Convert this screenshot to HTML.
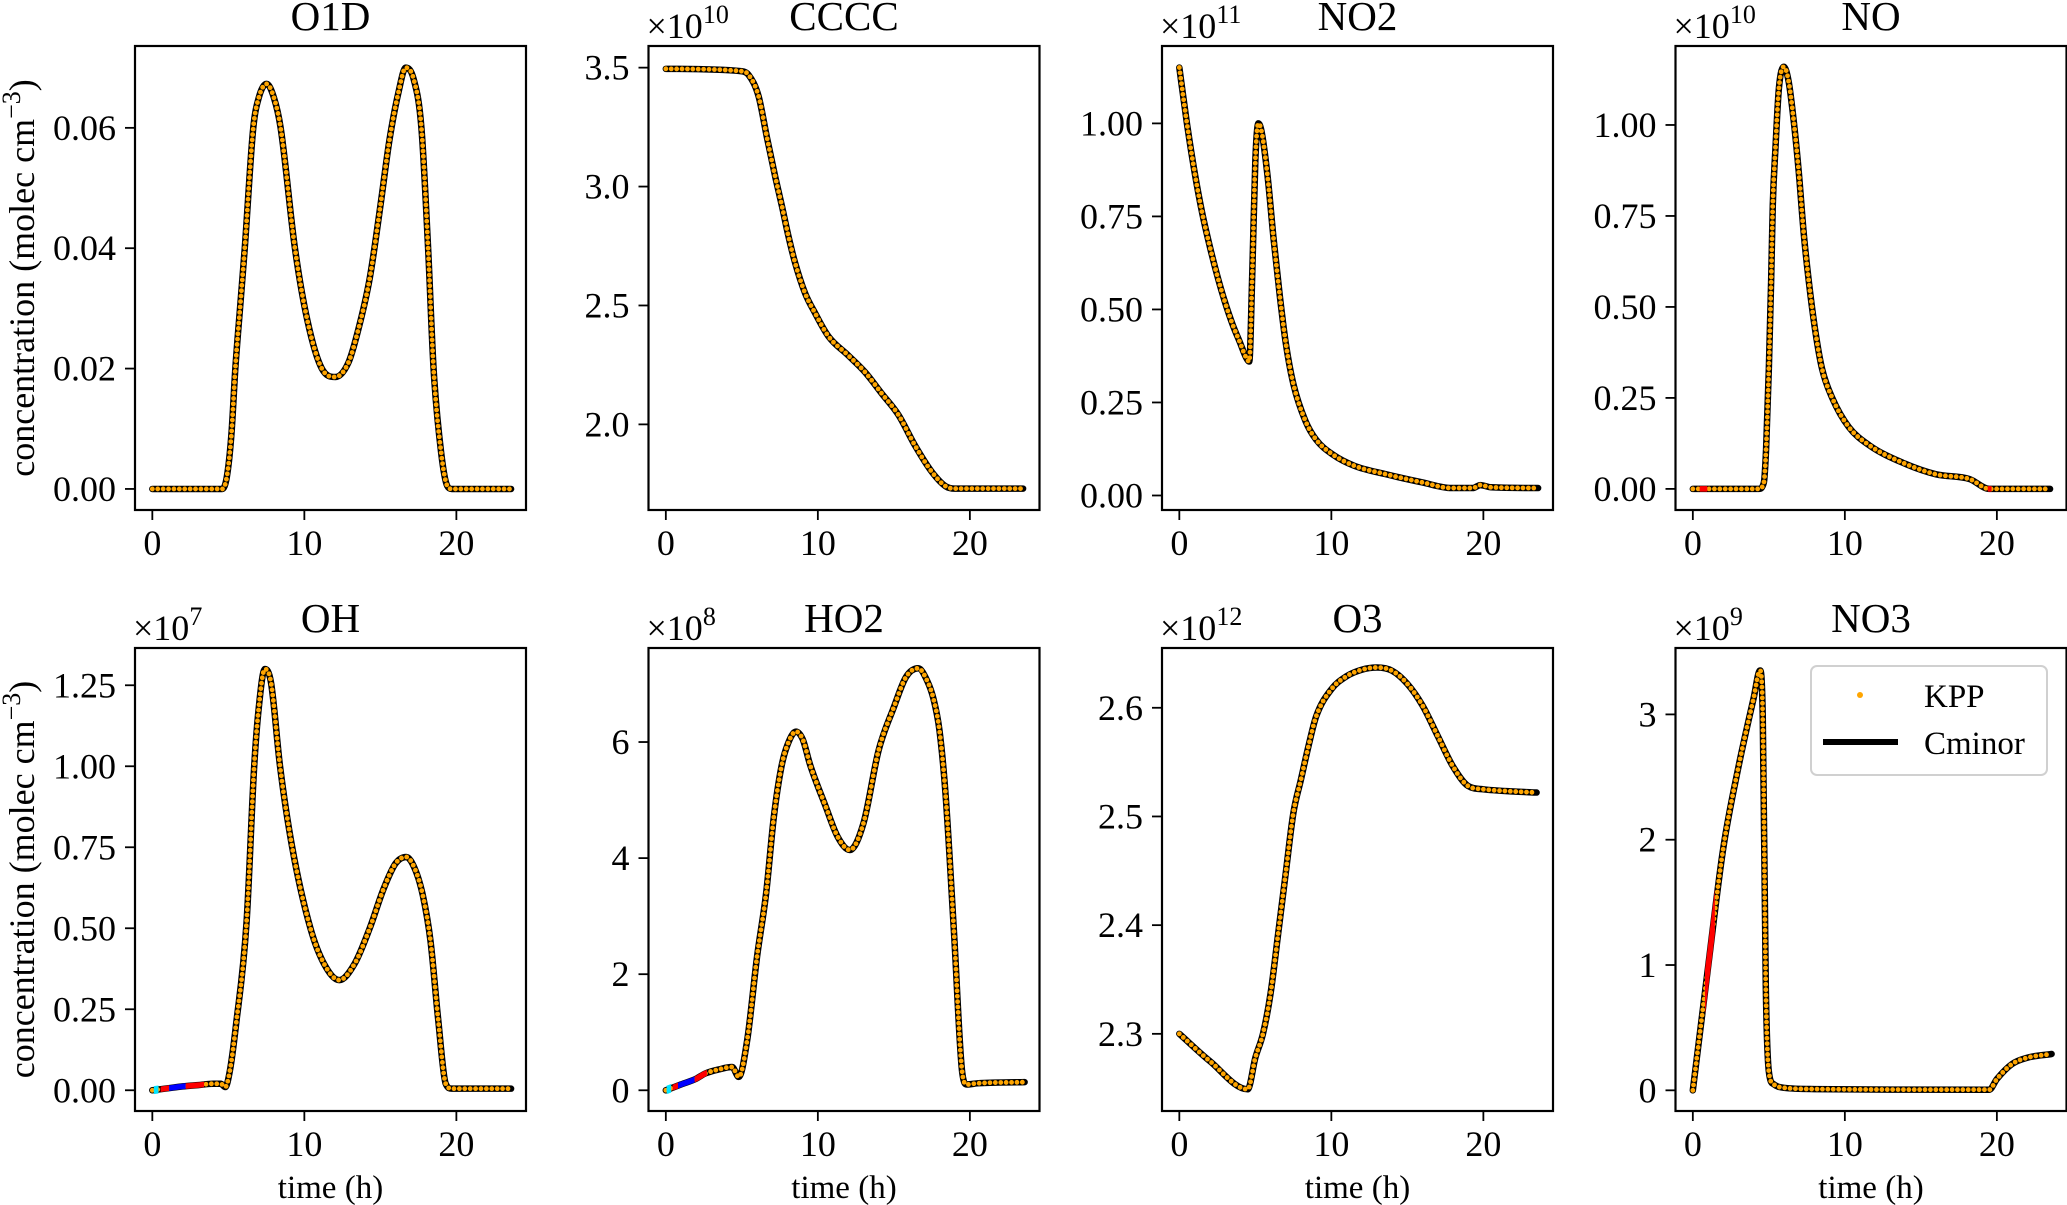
<!DOCTYPE html>
<html><head><meta charset="utf-8"><style>
html,body{margin:0;padding:0;background:#fff}
svg{display:block}
text{font-family:"Liberation Serif",serif;fill:#000}
</style></head><body>
<svg id="fig" width="2067" height="1205" viewBox="0 0 2067 1205" xmlns="http://www.w3.org/2000/svg"></svg>
<script>
// ---- data (time in hours, values in units of the panel offset) ----
const O1D_t=[0,4.6,4.9,5.2,5.46,5.8,6.08,6.64,7.0,7.52,8.0,8.44,9.38,10.2,11.15,12.04,12.9,13.5,14.3,15.0,15.6,16.2,16.67,17.2,17.7,18.14,18.5,19.0,19.4,19.7,23.6];
const O1D_v=[0,0,0.002,0.009,0.02,0.031,0.04,0.06,0.065,0.0673,0.065,0.06,0.04,0.028,0.02,0.0186,0.021,0.026,0.035,0.047,0.058,0.066,0.070,0.068,0.06,0.04,0.02,0.006,0.0005,0,0];
const CCCC_t=[0,5,5.44,6.1,6.64,7.2,7.63,8.07,8.5,9.17,9.8,10.7,12.0,13.1,14.2,15.3,16.4,17.5,18.4,19.0,23.5];
const CCCC_v=[3.495,3.485,3.47,3.38,3.21,3.04,2.92,2.79,2.68,2.55,2.47,2.37,2.29,2.22,2.13,2.04,1.91,1.80,1.74,1.73,1.73];
const NO2_t=[0,0.5,1,1.5,2,2.5,3,3.5,4,4.4,4.6,4.8,5.0,5.2,5.4,5.8,6.2,6.6,7.0,7.5,8.3,9,10.1,11.5,13.6,16,17.9,19.3,19.8,20.5,23.6];
const NO2_v=[1.15,1.0,0.87,0.76,0.67,0.59,0.52,0.46,0.41,0.37,0.36,0.6,0.9,1.0,0.98,0.86,0.69,0.54,0.41,0.3,0.2,0.15,0.11,0.08,0.057,0.035,0.02,0.02,0.028,0.022,0.02];
const NO_t=[0,4.34,4.67,4.82,5.0,5.15,5.26,5.44,5.66,5.99,6.3,6.64,6.97,7.3,7.63,8.07,8.5,9.17,10.26,11.6,13.8,16,18.2,19.5,23.5];
const NO_v=[0,0,0.017,0.11,0.33,0.57,0.78,0.94,1.10,1.16,1.12,1.01,0.87,0.70,0.57,0.43,0.33,0.25,0.17,0.12,0.072,0.04,0.027,0,0];
const OH_t=[0,1,2,3,4,4.5,4.8,5.1,5.5,6.2,6.7,7.0,7.4,7.8,8.4,9.2,10.4,11.3,12.3,13.3,14.3,15.2,16.0,16.7,17.3,17.8,18.3,18.8,19.3,19.7,23.6];
const OH_v=[0,0.006,0.012,0.016,0.02,0.02,0.01,0.06,0.2,0.52,1.0,1.18,1.30,1.26,1.0,0.75,0.5,0.39,0.34,0.39,0.5,0.62,0.70,0.72,0.68,0.6,0.46,0.22,0.02,0.005,0.005];
const HO2_t=[0,1,2,2.6,3.5,4.36,4.8,5.35,6.0,6.6,7.1,7.6,8.0,8.56,9.0,9.5,10.5,11.3,12.1,13.0,14.0,15.0,15.8,16.6,17.2,17.6,18.0,18.4,18.96,19.5,19.8,20.5,23.6];
const HO2_v=[0,0.1,0.2,0.29,0.36,0.4,0.23,0.86,2.3,3.4,4.7,5.57,5.95,6.18,6.05,5.6,4.9,4.37,4.14,4.6,5.86,6.6,7.12,7.27,7.05,6.75,6.2,5.1,2.7,0.3,0.1,0.12,0.14];
const O3_t=[0,2,4.5,5,5.5,6,6.5,7,7.5,8,8.5,9,10,11,12,13,14,15,16,17,18,19,20,22,23.5];
const O3_v=[2.30,2.275,2.249,2.278,2.30,2.337,2.392,2.448,2.503,2.534,2.565,2.592,2.617,2.629,2.635,2.637,2.634,2.622,2.602,2.574,2.546,2.528,2.525,2.523,2.522];
const NO3_t=[0,1,2,3,4,4.42,4.6,4.8,5.0,5.3,6,8,19.5,20,21,22,23.6];
const NO3_v=[0,0.98,1.93,2.58,3.13,3.35,2.98,0.83,0.15,0.05,0.02,0.01,0.005,0.09,0.21,0.26,0.29];
// ---- tick labels ----
const xTicks=[0,10,20];
const O1D_ticks=[0,0.02,0.04,0.06], O1D_labels=["0.00","0.02","0.04","0.06"];
const CCCC_ticks=[2.0,2.5,3.0,3.5], CCCC_labels=["2.0","2.5","3.0","3.5"];
const NO2_ticks=[0,0.25,0.5,0.75,1.0], NO2_labels=["0.00","0.25","0.50","0.75","1.00"];
const NO_ticks=[0,0.25,0.5,0.75,1.0], NO_labels=["0.00","0.25","0.50","0.75","1.00"];
const OH_ticks=[0,0.25,0.5,0.75,1.0,1.25], OH_labels=["0.00","0.25","0.50","0.75","1.00","1.25"];
const HO2_ticks=[0,2,4,6], HO2_labels=["0","2","4","6"];
const O3_ticks=[2.3,2.4,2.5,2.6], O3_labels=["2.3","2.4","2.5","2.6"];
const NO3_ticks=[0,1,2,3], NO3_labels=["0","1","2","3"];
// highlighted (solver-switch) segments: [t0,t1,color]
const NO_marks=[[0.45,0.95,"#ff0000"],[19.4,19.65,"#ff0000"]];
const OH_marks=[[0.55,1.1,"#ff0000"],[1.1,2.2,"#0000ff"],[2.2,3.4,"#ff0000"],[0.1,0.4,"#00e5ff"]];
const HO2_marks=[[0.45,0.8,"#ff0000"],[0.8,1.9,"#0000ff"],[1.9,2.7,"#ff0000"],[0.05,0.35,"#00e5ff"]];
const NO3_marks=[[0.8,1.45,"#ff0000"]];

const panels=[
 {name:"O1D",exp:"",t:O1D_t,v:O1D_v,ticks:O1D_ticks,labels:O1D_labels,ymin:-0.0035,ymax:0.0736,col:0,row:0,marks:[]},
 {name:"CCCC",exp:"10",t:CCCC_t,v:CCCC_v,ticks:CCCC_ticks,labels:CCCC_labels,ymin:1.64,ymax:3.591,col:1,row:0,marks:[]},
 {name:"NO2",exp:"11",t:NO2_t,v:NO2_v,ticks:NO2_ticks,labels:NO2_labels,ymin:-0.039,ymax:1.208,col:2,row:0,marks:[]},
 {name:"NO",exp:"10",t:NO_t,v:NO_v,ticks:NO_ticks,labels:NO_labels,ymin:-0.058,ymax:1.217,col:3,row:0,marks:NO_marks},
 {name:"OH",exp:"7",t:OH_t,v:OH_v,ticks:OH_ticks,labels:OH_labels,ymin:-0.064,ymax:1.365,col:0,row:1,marks:OH_marks},
 {name:"HO2",exp:"8",t:HO2_t,v:HO2_v,ticks:HO2_ticks,labels:HO2_labels,ymin:-0.357,ymax:7.62,col:1,row:1,marks:HO2_marks},
 {name:"O3",exp:"12",t:O3_t,v:O3_v,ticks:O3_ticks,labels:O3_labels,ymin:2.229,ymax:2.655,col:2,row:1,marks:[]},
 {name:"NO3",exp:"9",t:NO3_t,v:NO3_v,ticks:NO3_ticks,labels:NO3_labels,ymin:-0.165,ymax:3.53,col:3,row:1,marks:NO3_marks}
];

const NS="http://www.w3.org/2000/svg";
const svg=document.getElementById('fig');
function el(tag,attrs,parent){const e=document.createElementNS(NS,tag);for(const k in attrs)e.setAttribute(k,attrs[k]);(parent||svg).appendChild(e);return e;}
const colLeft=[135,648.5,1162,1675.5], W=391, rowTop=[46,648], H=[464,463];
const XMIN=-1.14, XMAX=24.58;

function monoPath(xs,ys){
 const n=xs.length; if(n<2)return "";
 const d=[],m=new Array(n);
 for(let i=0;i<n-1;i++)d.push((ys[i+1]-ys[i])/(xs[i+1]-xs[i]));
 m[0]=d[0];m[n-1]=d[n-2];
 for(let i=1;i<n-1;i++){m[i]=(d[i-1]*d[i]<=0)?0:(d[i-1]+d[i])/2;}
 for(let i=0;i<n-1;i++){if(d[i]===0){m[i]=0;m[i+1]=0;continue;}
  const a=m[i]/d[i],b=m[i+1]/d[i],s=a*a+b*b;if(s>9){const tt=3/Math.sqrt(s);m[i]=tt*a*d[i];m[i+1]=tt*b*d[i];}}
 let p="M"+xs[0].toFixed(2)+","+ys[0].toFixed(2);
 for(let i=0;i<n-1;i++){const h=(xs[i+1]-xs[i])/3;
  p+=" C"+(xs[i]+h).toFixed(2)+","+(ys[i]+m[i]*h).toFixed(2)+" "+(xs[i+1]-h).toFixed(2)+","+(ys[i+1]-m[i+1]*h).toFixed(2)+" "+xs[i+1].toFixed(2)+","+ys[i+1].toFixed(2);}
 return p;
}

panels.forEach((p,pi)=>{
 const L=colLeft[p.col],T=rowTop[p.row],h=H[p.row],B=T+h,R=L+W;
 const xs=t=>L+(t-XMIN)/(XMAX-XMIN)*W;
 const ys=v=>B-(v-p.ymin)/(p.ymax-p.ymin)*h;
 const g=el('g',{});
 
 
 const cid='clip'+pi;
 const cp=el('clipPath',{id:cid},g);el('rect',{x:L,y:T,width:W,height:h},cp);
 const px=p.t.map(xs),py=p.v.map(ys);
 const d=monoPath(px,py);
 const cl=el('path',{d:d,fill:'none',stroke:'#000','stroke-width':6.5,'stroke-linejoin':'round','stroke-linecap':'round','clip-path':'url(#'+cid+')'},g);
 
 
 const kp=el('path',{d:d,fill:'none',stroke:'#ffa500','stroke-width':4.8,'stroke-dasharray':'0 5.4','stroke-linecap':'round','clip-path':'url(#'+cid+')'},g);
 
 
 p.marks.forEach((mk,mi)=>{
  const mid='mk'+pi+'_'+mi;
  const c=el('clipPath',{id:mid},g);el('rect',{x:xs(mk[0]),y:T,width:xs(mk[1])-xs(mk[0]),height:h},c);
  const mp=el('path',{d:d,fill:'none',stroke:mk[2],'stroke-width':mk[2]==='#00e5ff'?8:5.5,'stroke-linecap':'butt','clip-path':'url(#'+mid+')'},g);
  
  
 });
 const fr=el('rect',{x:L,y:T,width:W,height:h,fill:'none',stroke:'#000','stroke-width':2.2},g);
 
 
 xTicks.forEach(t=>{const x=xs(t);
  el('line',{x1:x,y1:B,x2:x,y2:B+10,stroke:'#000','stroke-width':1.8},g);
  const tx=el('text',{x:x,y:B+45,'font-size':36,'text-anchor':'middle'},g);tx.textContent=String(t);
  
  
 });
 p.ticks.forEach((v,i)=>{const y=ys(v);
  el('line',{x1:L-10,y1:y,x2:L,y2:y,stroke:'#000','stroke-width':1.8},g);
  const ty=el('text',{x:L-19,y:y+12,'font-size':36,'text-anchor':'end'},g);ty.textContent=p.labels[i];
  
  
 });
 const tt=el('text',{x:L+W/2,y:T-16,'font-size':41,'text-anchor':'middle'},g);tt.textContent=p.name;
 
 
 if(p.exp){
  const ot=el('text',{x:L-2,y:T-8,'font-size':36},g);
  
  
  const a=el('tspan',{},ot);a.textContent='×10';
  const b=el('tspan',{'font-size':26,dy:-15},ot);b.textContent=p.exp;
 }
 if(p.col===0){
  const cy=T+h/2;
  const yl=el('text',{x:0,y:0,'font-size':36,'text-anchor':'middle',transform:'translate(34,'+cy+') rotate(-90)'},g);
  
  
  const a=el('tspan',{},yl);a.textContent='concentration (molec cm';
  const b=el('tspan',{'font-size':26,dy:-14},yl);b.textContent='−3';
  const c=el('tspan',{dy:14},yl);c.textContent=')';
 }
 if(p.row===1){
  const xl=el('text',{x:L+W/2,y:1198,'font-size':33,'text-anchor':'middle'},g);xl.textContent='time (h)';
  
  
 }
});

// legend
const lg=el('g',{});


el('rect',{x:1811,y:666,width:236,height:109,rx:6,fill:'#fff','fill-opacity':0.85,stroke:'#d0d0d0','stroke-width':2},lg);
const ld=el('circle',{cx:1860,cy:695,r:3,fill:'#ffa500'},lg);


const lt1=el('text',{x:1924,y:707,'font-size':33},lg);lt1.textContent='KPP';


const ll=el('line',{x1:1823,y1:742,x2:1898,y2:742,stroke:'#000','stroke-width':6},lg);


const lt2=el('text',{x:1924,y:754,'font-size':33},lg);lt2.textContent='Cminor';


</script>
</body></html>
